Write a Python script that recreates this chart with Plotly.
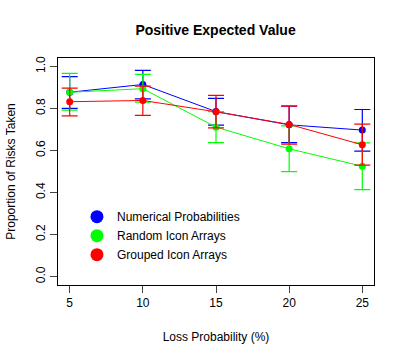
import plotly.graph_objects as go

loss_prob = [5, 10, 15, 20, 25]

num_mean = [0.877, 0.914, 0.785, 0.722, 0.697]
num_upper = [0.951, 0.981, 0.848, 0.811, 0.795]
num_lower = [0.800, 0.846, 0.721, 0.637, 0.597]

rand_mean = [0.877, 0.894, 0.711, 0.608, 0.525]
rand_upper = [0.967, 0.962, 0.785, 0.717, 0.636]
rand_lower = [0.792, 0.830, 0.637, 0.499, 0.414]

grp_mean = [0.832, 0.838, 0.784, 0.724, 0.627]
grp_upper = [0.897, 0.906, 0.862, 0.811, 0.725]
grp_lower = [0.765, 0.767, 0.708, 0.630, 0.530]

series = [
    ("Numerical Probabilities", "#0000FF", num_mean, num_upper, num_lower),
    ("Random Icon Arrays", "#00FF00", rand_mean, rand_upper, rand_lower),
    ("Grouped Icon Arrays", "#FF0000", grp_mean, grp_upper, grp_lower),
]

FONT = "Liberation Sans, Arial, Helvetica, sans-serif"

fig = go.Figure()
for name, color, m, up, lo in series:
    fig.add_trace(go.Scatter(
        x=loss_prob, y=m, mode="lines+markers", showlegend=False,
        line=dict(color=color, width=1),
        marker=dict(color=color, size=7),
        error_y=dict(type="data", symmetric=False,
                     array=[u - v for u, v in zip(up, m)],
                     arrayminus=[v - l for v, l in zip(m, lo)],
                     color=color, thickness=1.2, width=8),
    ))
for name, color, m, up, lo in series:
    fig.add_trace(go.Scatter(
        x=[None], y=[None], mode="markers", name=name,
        marker=dict(color=color, size=13),
    ))

fig.update_layout(
    width=404, height=359,
    margin=dict(l=58, r=30, t=58, b=74),
    paper_bgcolor="white", plot_bgcolor="white",
    font=dict(family=FONT, size=12, color="black"),
    title=dict(text="<b>Positive Expected Value</b>", x=0.5335, xanchor="center",
               y=1 - 30 / 359, yanchor="middle", font=dict(size=14)),
    legend=dict(x=0.06, y=0.365, xanchor="left", yanchor="top",
                bgcolor="rgba(0,0,0,0)", font=dict(size=12),
                itemwidth=30, tracegroupgap=0),
)
fig.update_xaxes(range=[4.2, 25.8], tickvals=loss_prob, ticks="outside", ticklen=7,
                 showgrid=False, zeroline=False, showline=True, mirror=True,
                 linecolor="black", linewidth=1, automargin=False,
                 tickfont=dict(size=12),
                 title=dict(text="Loss Probability (%)", standoff=23, font=dict(size=12)))
fig.update_yaxes(range=[-0.04, 1.04], tickvals=[0, 0.2, 0.4, 0.6, 0.8, 1.0],
                 ticktext=["0.0", "0.2", "0.4", "0.6", "0.8", "1.0"],
                 tickangle=-90, ticks="outside", ticklen=7,
                 showgrid=False, zeroline=False, showline=True, mirror=True,
                 linecolor="black", linewidth=1, automargin=False,
                 tickfont=dict(size=12),
                 title=dict(text="Proportion of Risks Taken", standoff=16, font=dict(size=12)))

fig.write_html("out.html", config={"displayModeBar": False},
               post_script="document.body.style.margin='0';")
